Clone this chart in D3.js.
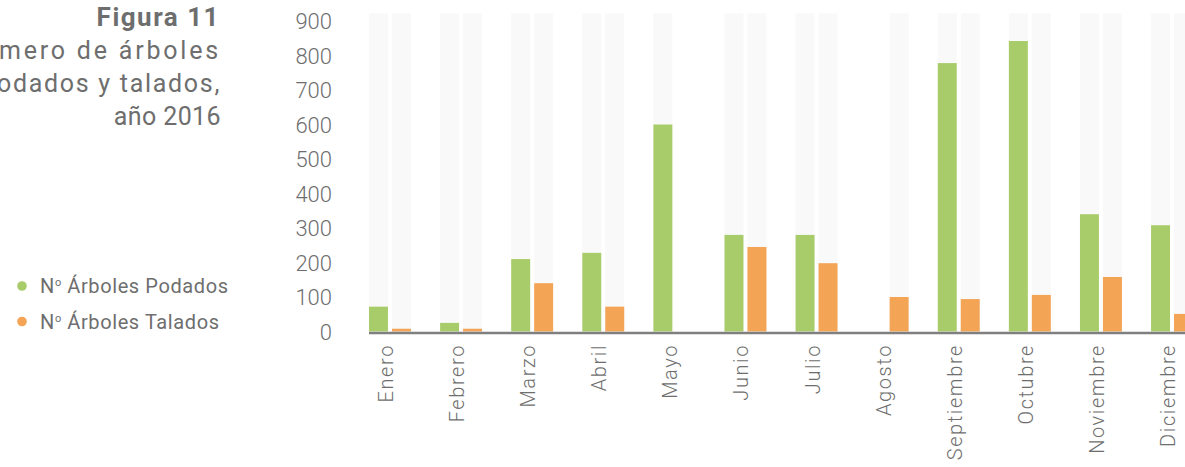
<!DOCTYPE html>
<html>
<head>
<meta charset="utf-8">
<script src="https://cdn.jsdelivr.net/npm/d3@7"></script>
<style>
  html, body { margin: 0; padding: 0; background: #ffffff; overflow: hidden; }
  svg { display: block; }
  text { font-family: Roboto, "Noto Sans", sans-serif; fill: #6e6e6e; }
</style>
</head>
<body>
<svg id="chart" width="1185" height="467"></svg>
<script>
// ---- data ----
const months = ["Enero", "Febrero", "Marzo", "Abril", "Mayo", "Junio", "Julio",
                "Agosto", "Septiembre", "Octubre", "Noviembre", "Diciembre"];
const podados = [72, 25, 210, 228, 600, 280, 280, null, 778, 842, 340, 308];
const talados = [8, 8, 140, 72, null, 245, 198, 100, 94, 106, 158, 51];
const yTicks = [0, 100, 200, 300, 400, 500, 600, 700, 800, 900];
const seriesNames = ["Nº Árboles Podados", "Nº Árboles Talados"];
const titleBold = "Figura 11";
const titleLines = ["Número de árboles", "podados y talados,", "año 2016"];
const trackMax = 922;

// ---- styles / layout ----
const colors = ["#a9cc6b", "#f3a455"];
const titleSpacing = [2.8, 1.7, 0.4];
const svg = d3.select("#chart");

const y = d3.scaleLinear().domain([0, 900]).range([331.5, 21]);
const x0 = d3.scaleBand().domain(months).range([369, 1193]).paddingInner(0.41).paddingOuter(0);
const x1 = d3.scaleBand().domain([0, 1]).range([0, x0.bandwidth()]).paddingInner(0.174);

const rows = months.map((m, i) => ({ m, vals: [podados[i], talados[i]] }));

const g = svg.append("g");
const groups = g.selectAll("g.grp").data(rows).join("g")
  .attr("class", "grp")
  .attr("transform", d => `translate(${x0(d.m)},0)`);

// background tracks
groups.selectAll("rect.track").data(d => d.vals.map((v, k) => ({ v, k })).filter(e => e.v !== null))
  .join("rect").attr("class", "track")
  .attr("x", e => x1(e.k)).attr("width", x1.bandwidth())
  .attr("y", y(trackMax)).attr("height", y(0) - y(trackMax))
  .attr("fill", "#f9f9f9");

// bars
groups.selectAll("rect.bar").data(d => d.vals.map((v, k) => ({ v, k })).filter(e => e.v !== null))
  .join("rect").attr("class", "bar")
  .attr("x", e => x1(e.k)).attr("width", x1.bandwidth())
  .attr("y", e => y(e.v)).attr("height", e => y(0) - y(e.v))
  .attr("fill", e => colors[e.k]);

// baseline
svg.append("line")
  .attr("x1", 369).attr("x2", 1185)
  .attr("y1", y(0) + 1.5).attr("y2", y(0) + 1.5)
  .attr("stroke", "#7f7f7f").attr("stroke-width", 2.6);

// y axis
const yAxis = d3.axisLeft(y).tickValues(yTicks).tickSize(0).tickPadding(0).tickFormat(d3.format("d"));
const ya = svg.append("g").attr("transform", "translate(332,0)").call(yAxis);
ya.select(".domain").remove();
ya.selectAll("text")
  .style("font-family", "Roboto, sans-serif")
  .style("font-size", "22px").style("font-weight", 300)
  .attr("fill", "#6e6e6e").attr("dy", "0.36em");

// x axis labels
const xAxis = d3.axisBottom(x0).tickSize(0).tickPadding(0);
const xa = svg.append("g").attr("transform", "translate(0,344)").call(xAxis);
xa.select(".domain").remove();
xa.selectAll("text")
  .style("font-family", "Roboto, sans-serif")
  .style("font-size", "20px").style("font-weight", 300)
  .style("letter-spacing", "1.6px")
  .attr("fill", "#6e6e6e")
  .attr("text-anchor", "end")
  .attr("transform", "rotate(-90)")
  .attr("x", 0).attr("y", 0).attr("dy", "0.15em");

// title
const tg = svg.append("g");
tg.append("text").attr("x", 220).attr("y", 26).attr("text-anchor", "end")
  .style("font-size", "26px").style("font-weight", 700).attr("fill", "#666666")
  .style("letter-spacing", "1.5px")
  .text(titleBold);
titleLines.forEach((t, i) => {
  tg.append("text").attr("x", 221).attr("y", 59 + i * 33).attr("text-anchor", "end")
    .style("font-size", "25px").style("font-weight", 400)
    .style("letter-spacing", titleSpacing[i] + "px")
    .text(t);
});

// legend
const lg = svg.append("g");
seriesNames.forEach((s, i) => {
  const cy = 286 + i * 35.5;
  lg.append("circle").attr("cx", 22).attr("cy", cy).attr("r", 4.8).attr("fill", colors[i]);
  const t = lg.append("text").attr("x", 40).attr("y", cy + 7)
    .style("font-size", "20px").style("font-weight", 400).style("letter-spacing", "0.6px");
  const parts = s.split("º");
  t.append("tspan").text(parts[0]);
  t.append("tspan").text("o").style("font-size", "11px").attr("dy", -7);
  t.append("tspan").text(parts[1]).attr("dy", 7);
});
</script>
</body>
</html>
